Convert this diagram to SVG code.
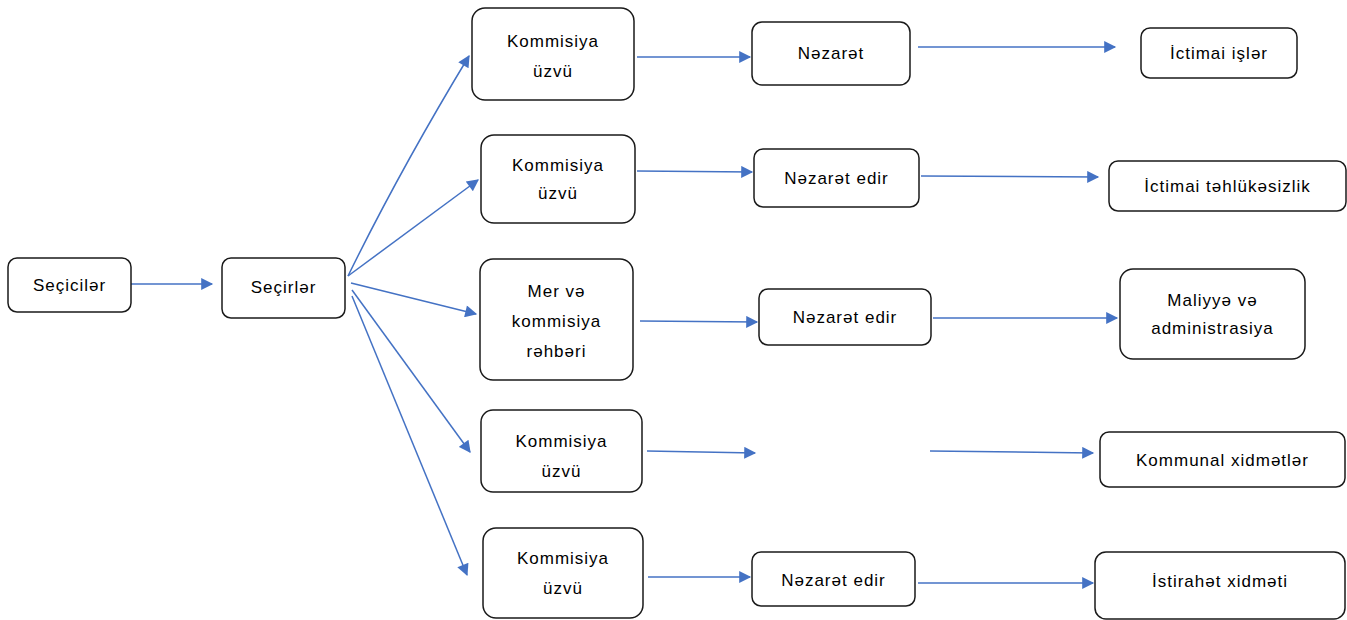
<svg xmlns="http://www.w3.org/2000/svg" width="1347" height="620" viewBox="0 0 1347 620">
<style>
.box{fill:#fff;stroke:#1a1a1a;stroke-width:1.5}
.t{font-family:"Liberation Sans",Arial,sans-serif;font-size:17px;fill:#000;text-anchor:middle;letter-spacing:1px}
.c{stroke:#4472C4;stroke-width:1.5;fill:none;marker-end:url(#ah)}
</style>
<defs>
<marker id="ah" viewBox="0 0 10 10" refX="9" refY="5" markerWidth="14" markerHeight="12" markerUnits="userSpaceOnUse" orient="auto"><path d="M0,0 L10,5 L0,10 z" fill="#4472C4"/></marker>
</defs>
<rect width="1347" height="620" fill="#fff"/>
<g id="connectors">
<path class="c" d="M131,284 L212,284"/>
<path class="c" d="M348,276 Q400,170 469,56"/>
<path class="c" d="M348,276 L478,180"/>
<path class="c" d="M351,283 L476,314"/>
<path class="c" d="M352,290 L470,452"/>
<path class="c" d="M352,296 L467,575"/>
<path class="c" d="M637,57 L750,57"/>
<path class="c" d="M918,47 L1115,47"/>
<path class="c" d="M637,171 L752,172"/>
<path class="c" d="M921,176 L1098,177"/>
<path class="c" d="M640,321 L757,322"/>
<path class="c" d="M933,318 L1117,318"/>
<path class="c" d="M647,451 L755,453"/>
<path class="c" d="M930,451 L1093,453"/>
<path class="c" d="M648,577 L750,577"/>
<path class="c" d="M918,583 L1093,583"/>
</g>
<g id="n-secililer"><rect class="box" x="8" y="258" width="123" height="54" rx="9"/><text class="t" x="69.5" y="291">Seçicilər</text></g>
<g id="n-secirler"><rect class="box" x="222" y="258" width="123" height="60" rx="9"/><text class="t" x="283.5" y="293">Seçirlər</text></g>
<g id="n-k1"><rect class="box" x="472" y="8" width="162" height="92" rx="13"/><text class="t" x="553" y="47">Kommisiya</text><text class="t" x="553" y="77">üzvü</text></g>
<g id="n-n1"><rect class="box" x="752" y="22" width="158" height="63" rx="10"/><text class="t" x="831" y="59">Nəzarət</text></g>
<g id="n-r1"><rect class="box" x="1141" y="28" width="156" height="50" rx="9"/><text class="t" x="1219" y="59">İctimai işlər</text></g>
<g id="n-k2"><rect class="box" x="481" y="135" width="154" height="88" rx="13"/><text class="t" x="558" y="171">Kommisiya</text><text class="t" x="558" y="199">üzvü</text></g>
<g id="n-n2"><rect class="box" x="754" y="149" width="165" height="58" rx="9"/><text class="t" x="836.5" y="184">Nəzarət edir</text></g>
<g id="n-r2"><rect class="box" x="1109" y="161" width="237" height="50" rx="9"/><text class="t" x="1227.5" y="192">İctimai təhlükəsizlik</text></g>
<g id="n-k3"><rect class="box" x="480" y="259" width="153" height="121" rx="13"/><text class="t" x="556.5" y="297">Mer və</text><text class="t" x="556.5" y="327">kommisiya</text><text class="t" x="556.5" y="357">rəhbəri</text></g>
<g id="n-n3"><rect class="box" x="759" y="289" width="172" height="56" rx="9"/><text class="t" x="845" y="323">Nəzarət edir</text></g>
<g id="n-r3"><rect class="box" x="1120" y="269" width="185" height="90" rx="13"/><text class="t" x="1212.5" y="306">Maliyyə və</text><text class="t" x="1212.5" y="334">administrasiya</text></g>
<g id="n-k4"><rect class="box" x="481" y="410" width="161" height="82" rx="12"/><text class="t" x="561.5" y="447">Kommisiya</text><text class="t" x="561.5" y="477">üzvü</text></g>
<g id="n-r4"><rect class="box" x="1100" y="432" width="245" height="55" rx="9"/><text class="t" x="1222.5" y="466">Kommunal xidmətlər</text></g>
<g id="n-k5"><rect class="box" x="483" y="528" width="160" height="90" rx="13"/><text class="t" x="563" y="564">Kommisiya</text><text class="t" x="563" y="594">üzvü</text></g>
<g id="n-n5"><rect class="box" x="752" y="552" width="163" height="54" rx="9"/><text class="t" x="833.5" y="586">Nəzarət edir</text></g>
<g id="n-r5"><rect class="box" x="1095" y="552" width="250" height="67" rx="11"/><text class="t" x="1220" y="587">İstirahət xidməti</text></g>
</svg>
